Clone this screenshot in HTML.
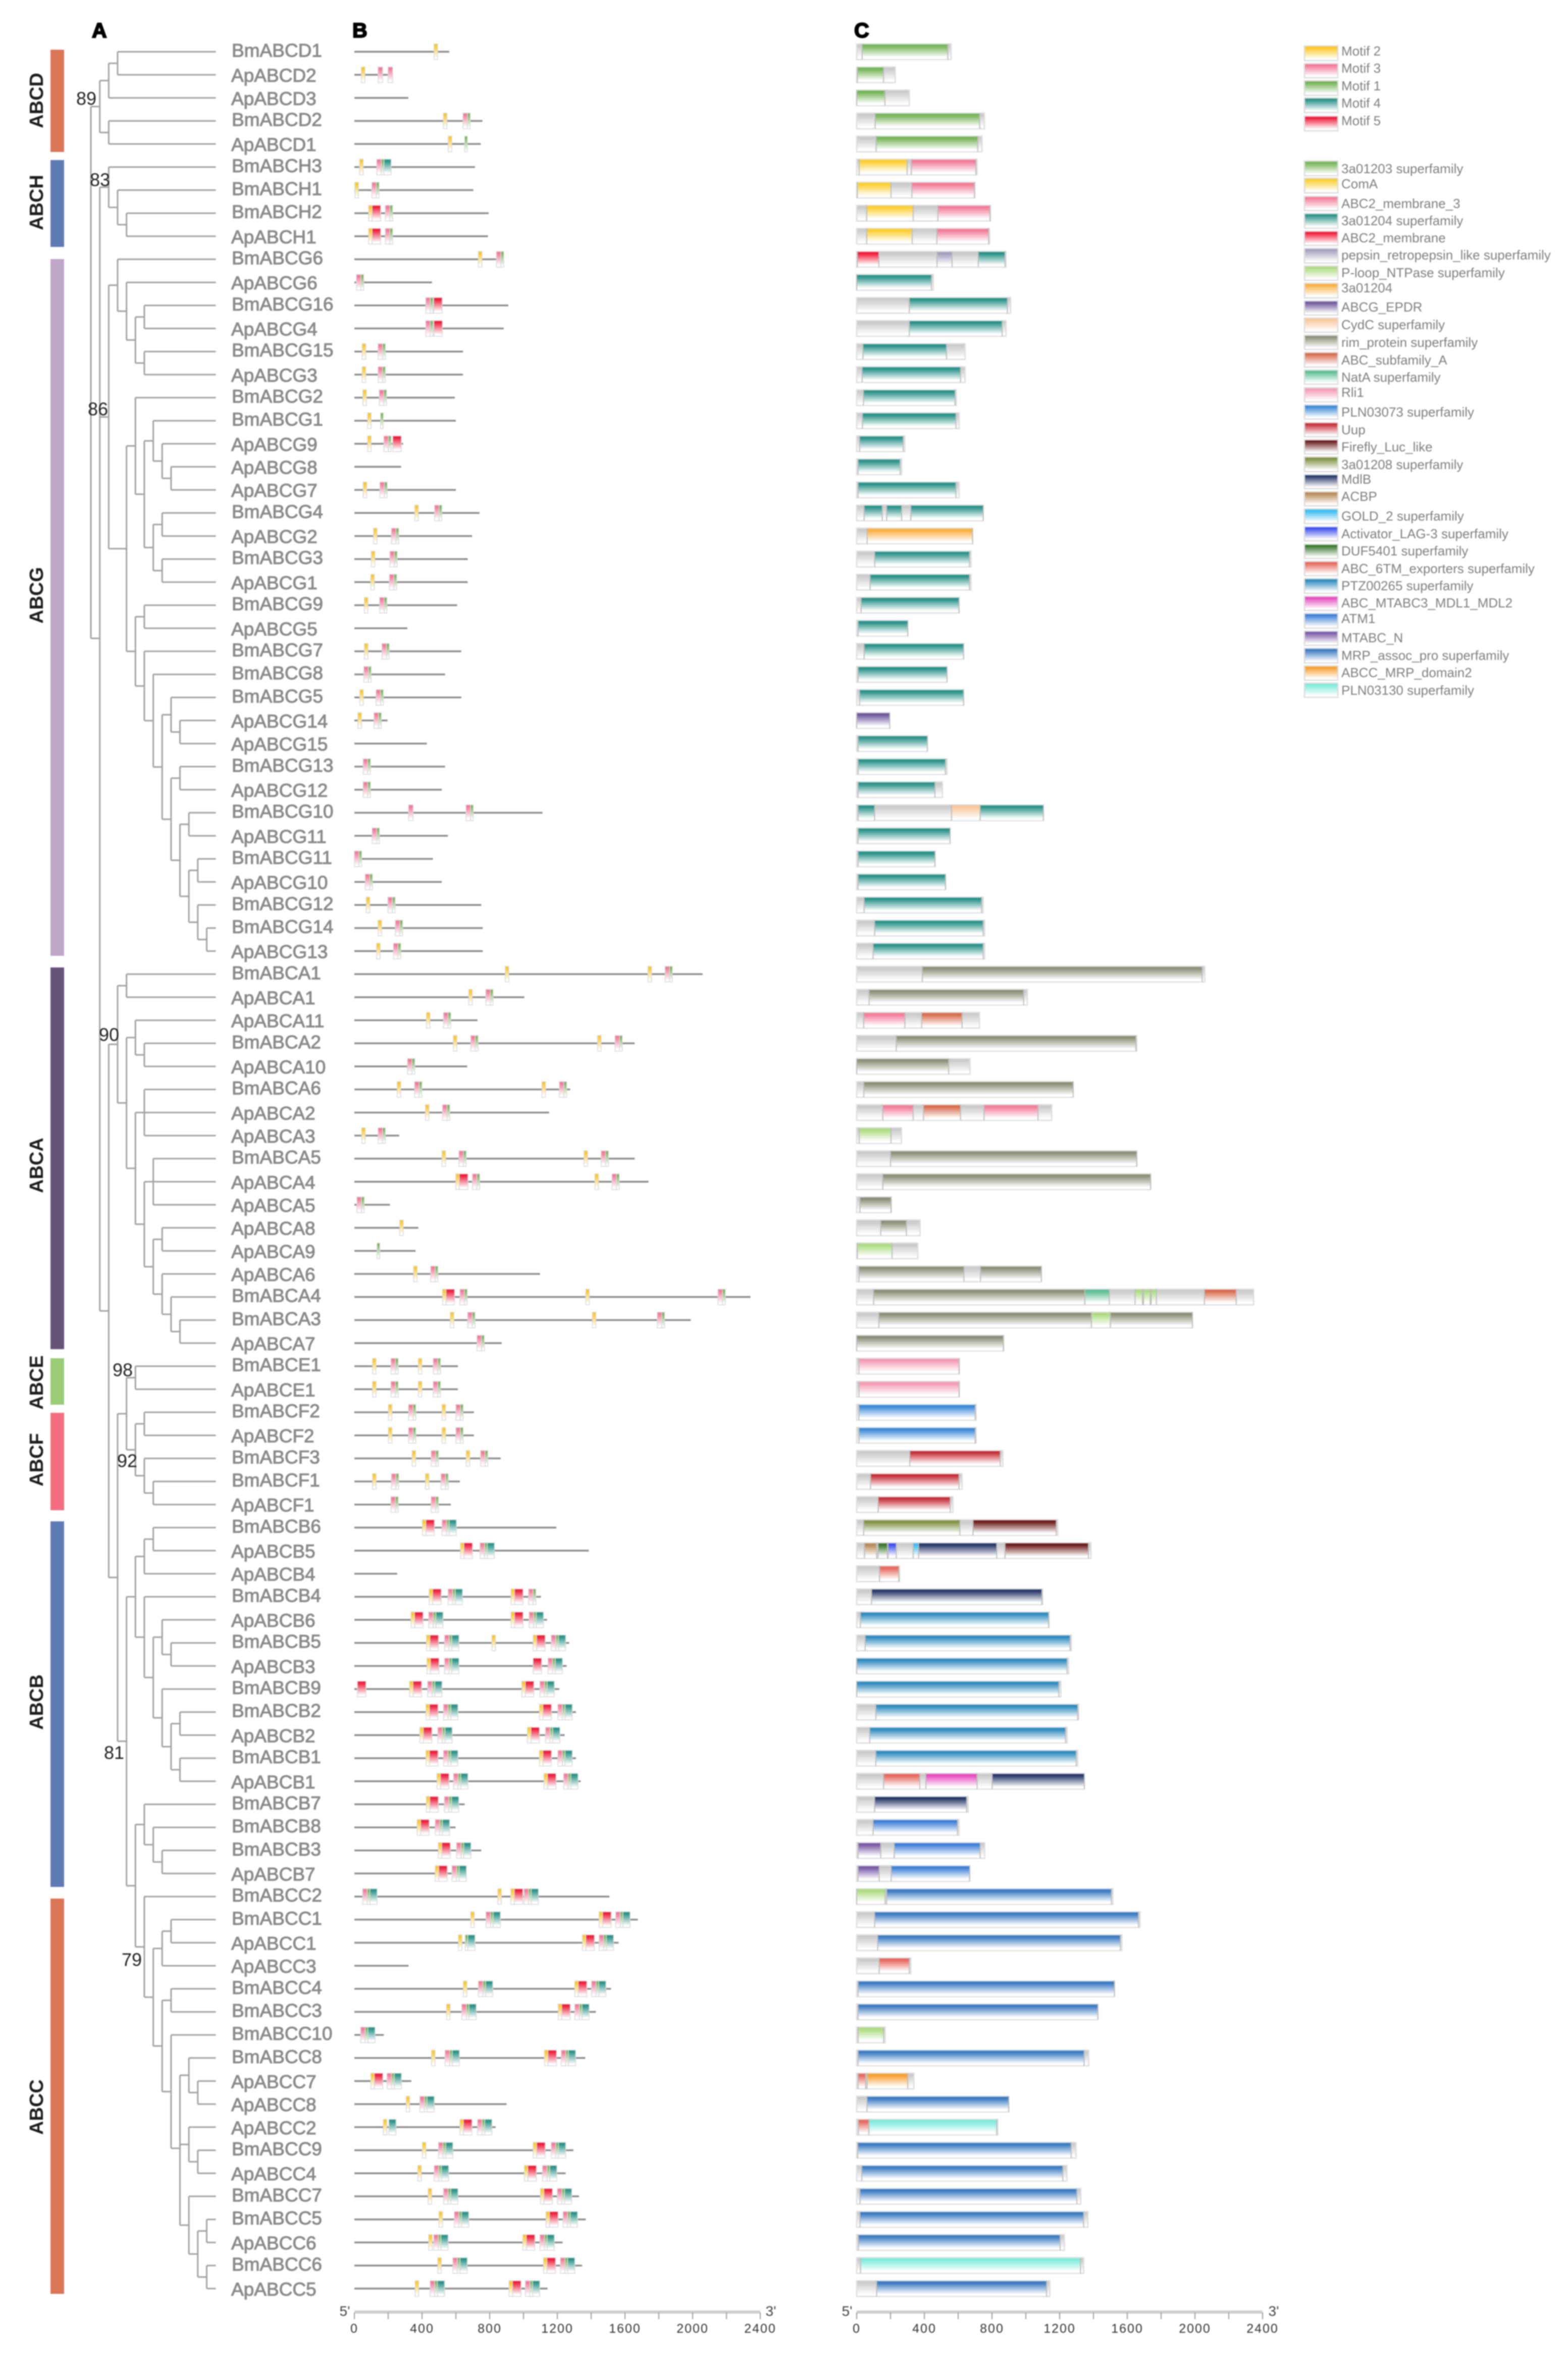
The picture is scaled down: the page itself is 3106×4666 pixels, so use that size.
<!DOCTYPE html>
<html lang="en">
<head>
<meta charset="utf-8">
<title>ABC transporter phylogeny, motifs and domains</title>
<style>
html,body{margin:0;padding:0;background:#fff;}
body{width:3106px;height:4666px;overflow:hidden;}
#figure{display:block;filter:blur(1px);font-family:"Liberation Sans",sans-serif;}
.lg{font-size:26px;fill:#808080;dominant-baseline:central;}
.sw{stroke:#dcdcdc;stroke-width:2.5;}
.grp{font-size:38px;font-weight:bold;fill:#1c1c1c;text-anchor:middle;dominant-baseline:central;}
.panel{font-size:41px;font-weight:bold;fill:#000;stroke:#000;stroke-width:2.2px;}
.boot{font-size:36px;fill:#222;text-anchor:middle;dominant-baseline:central;}
.gene{font-size:37px;fill:#8a8a8a;stroke:#8a8a8a;stroke-width:1.1px;dominant-baseline:central;}
.tick{font-size:25px;fill:#333;text-anchor:middle;letter-spacing:2px;dominant-baseline:central;}
.end{font-size:28px;fill:#444;text-anchor:middle;dominant-baseline:central;}
</style>
</head>
<body>
<svg id="figure" xmlns="http://www.w3.org/2000/svg" width="3106" height="4666" viewBox="0 0 3106 4666">
<defs id="grads"></defs>
<rect width="3106" height="4666" fill="#fff"/>

<text class="panel" x="182" y="74">A</text>
<text class="panel" x="698" y="74">B</text>
<text class="panel" x="1692" y="74">C</text>

<g>
<rect x="100" y="98.5" width="27" height="202.5" fill="#dc7555"/>
<rect x="100" y="317" width="27" height="172" fill="#5f7bb4"/>
<rect x="100" y="513" width="27" height="1380" fill="#bfa6c8"/>
<rect x="100" y="1916" width="27" height="756" fill="#67527a"/>
<rect x="100" y="2690" width="27" height="92" fill="#99cc75"/>
<rect x="100" y="2798" width="27" height="193" fill="#f56e80"/>
<rect x="100" y="3013" width="27" height="724" fill="#5f7bb4"/>
<rect x="100" y="3760" width="27" height="783" fill="#dc7555"/>
<text class="grp" transform="rotate(-90 73 199)" x="73" y="199">ABCD</text>
<text class="grp" transform="rotate(-90 73 401)" x="73" y="401">ABCH</text>
<text class="grp" transform="rotate(-90 73 1179)" x="73" y="1179">ABCG</text>
<text class="grp" transform="rotate(-90 73 2308)" x="73" y="2308">ABCA</text>
<text class="grp" transform="rotate(-90 73 2738)" x="73" y="2738">ABCE</text>
<text class="grp" transform="rotate(-90 73 2891)" x="73" y="2891">ABCF</text>
<text class="grp" transform="rotate(-90 73 3371)" x="73" y="3371">ABCB</text>
<text class="grp" transform="rotate(-90 73 4173)" x="73" y="4173">ABCC</text>
</g>

<g id="tree"></g>
<g>
<text class="boot" x="171" y="195">89</text>
<text class="boot" x="198" y="356">83</text>
<text class="boot" x="194" y="810">86</text>
<text class="boot" x="216" y="2049">90</text>
<text class="boot" x="243" y="2713">98</text>
<text class="boot" x="252" y="2893">92</text>
<text class="boot" x="226" y="3471">81</text>
<text class="boot" x="261" y="3881">79</text>
</g>
<g id="names"></g>
<g id="panelB"></g>
<g id="panelC"></g>
<g id="axisB"></g>
<g id="axisC"></g>

<g>
<rect class="sw" x="2584" y="91" width="66" height="29" fill="url(#g-Y)"/><text class="lg" x="2657" y="101">Motif 2</text>
<rect class="sw" x="2584" y="126" width="66" height="28" fill="url(#g-P)"/><text class="lg" x="2657" y="135">Motif 3</text>
<rect class="sw" x="2584" y="160" width="66" height="29" fill="url(#g-G)"/><text class="lg" x="2657" y="170">Motif 1</text>
<rect class="sw" x="2584" y="194" width="66" height="29" fill="url(#g-T)"/><text class="lg" x="2657" y="204">Motif 4</text>
<rect class="sw" x="2584" y="230" width="66" height="29" fill="url(#g-R)"/><text class="lg" x="2657" y="239">Motif 5</text>
</g>
<g>
<rect class="sw" x="2584" y="319" width="66" height="29" fill="url(#g-sf1203)"/><text class="lg" x="2657" y="334">3a01203 superfamily</text>
<rect class="sw" x="2584" y="353" width="66" height="29" fill="url(#g-ComA)"/><text class="lg" x="2657" y="364">ComA</text>
<rect class="sw" x="2584" y="389" width="66" height="28" fill="url(#g-mem3)"/><text class="lg" x="2657" y="403">ABC2_membrane_3</text>
<rect class="sw" x="2584" y="423" width="66" height="29" fill="url(#g-sf1204)"/><text class="lg" x="2657" y="437">3a01204 superfamily</text>
<rect class="sw" x="2584" y="458" width="66" height="28" fill="url(#g-mem)"/><text class="lg" x="2657" y="471">ABC2_membrane</text>
<rect class="sw" x="2584" y="492" width="66" height="29" fill="url(#g-pepsin)"/><text class="lg" x="2657" y="505">pepsin_retropepsin_like superfamily</text>
<rect class="sw" x="2584" y="527" width="66" height="28" fill="url(#g-ploop)"/><text class="lg" x="2657" y="540">P-loop_NTPase superfamily</text>
<rect class="sw" x="2584" y="561" width="66" height="29" fill="url(#g-a1204)"/><text class="lg" x="2657" y="570">3a01204</text>
<rect class="sw" x="2584" y="596" width="66" height="28" fill="url(#g-EPDR)"/><text class="lg" x="2657" y="608">ABCG_EPDR</text>
<rect class="sw" x="2584" y="630" width="66" height="28" fill="url(#g-CydC)"/><text class="lg" x="2657" y="643">CydC superfamily</text>
<rect class="sw" x="2584" y="664" width="66" height="28" fill="url(#g-rim)"/><text class="lg" x="2657" y="678">rim_protein superfamily</text>
<rect class="sw" x="2584" y="698" width="66" height="29" fill="url(#g-subA)"/><text class="lg" x="2657" y="713">ABC_subfamily_A</text>
<rect class="sw" x="2584" y="733" width="66" height="28" fill="url(#g-NatA)"/><text class="lg" x="2657" y="747">NatA superfamily</text>
<rect class="sw" x="2584" y="768" width="66" height="28" fill="url(#g-Rli1)"/><text class="lg" x="2657" y="777">Rli1</text>
<rect class="sw" x="2584" y="802" width="66" height="28" fill="url(#g-PLN73)"/><text class="lg" x="2657" y="816">PLN03073 superfamily</text>
<rect class="sw" x="2584" y="837" width="66" height="28" fill="url(#g-Uup)"/><text class="lg" x="2657" y="851">Uup</text>
<rect class="sw" x="2584" y="871" width="66" height="28" fill="url(#g-Luc)"/><text class="lg" x="2657" y="885">Firefly_Luc_like</text>
<rect class="sw" x="2584" y="905" width="66" height="29" fill="url(#g-sf1208)"/><text class="lg" x="2657" y="920">3a01208 superfamily</text>
<rect class="sw" x="2584" y="940" width="66" height="28" fill="url(#g-MdlB)"/><text class="lg" x="2657" y="949">MdlB</text>
<rect class="sw" x="2584" y="974" width="66" height="28" fill="url(#g-ACBP)"/><text class="lg" x="2657" y="983">ACBP</text>
<rect class="sw" x="2584" y="1008" width="66" height="29" fill="url(#g-GOLD)"/><text class="lg" x="2657" y="1022">GOLD_2 superfamily</text>
<rect class="sw" x="2584" y="1043" width="66" height="28" fill="url(#g-LAG3)"/><text class="lg" x="2657" y="1057">Activator_LAG-3 superfamily</text>
<rect class="sw" x="2584" y="1078" width="66" height="28" fill="url(#g-DUF)"/><text class="lg" x="2657" y="1091">DUF5401 superfamily</text>
<rect class="sw" x="2584" y="1112" width="66" height="28" fill="url(#g-TM6)"/><text class="lg" x="2657" y="1126">ABC_6TM_exporters superfamily</text>
<rect class="sw" x="2584" y="1146" width="66" height="29" fill="url(#g-PTZ)"/><text class="lg" x="2657" y="1160">PTZ00265 superfamily</text>
<rect class="sw" x="2584" y="1181" width="66" height="28" fill="url(#g-MDL)"/><text class="lg" x="2657" y="1194">ABC_MTABC3_MDL1_MDL2</text>
<rect class="sw" x="2584" y="1215" width="66" height="29" fill="url(#g-ATM1)"/><text class="lg" x="2657" y="1225">ATM1</text>
<rect class="sw" x="2584" y="1250" width="66" height="28" fill="url(#g-MTN)"/><text class="lg" x="2657" y="1263">MTABC_N</text>
<rect class="sw" x="2584" y="1284" width="66" height="29" fill="url(#g-MRP)"/><text class="lg" x="2657" y="1298">MRP_assoc_pro superfamily</text>
<rect class="sw" x="2584" y="1319" width="66" height="28" fill="url(#g-MRP2)"/><text class="lg" x="2657" y="1332">ABCC_MRP_domain2</text>
<rect class="sw" x="2584" y="1353" width="66" height="28" fill="url(#g-PLN30)"/><text class="lg" x="2657" y="1367">PLN03130 superfamily</text>
</g>
</svg>

<script>
// ---- data ----
const geneNames = ['BmABCD1','ApABCD2','ApABCD3','BmABCD2','ApABCD1','BmABCH3','BmABCH1','BmABCH2','ApABCH1',
'BmABCG6','ApABCG6','BmABCG16','ApABCG4','BmABCG15','ApABCG3','BmABCG2','BmABCG1','ApABCG9','ApABCG8','ApABCG7','BmABCG4','ApABCG2','BmABCG3','ApABCG1','BmABCG9','ApABCG5','BmABCG7','BmABCG8','BmABCG5','ApABCG14','ApABCG15','BmABCG13','ApABCG12','BmABCG10','ApABCG11','BmABCG11','ApABCG10','BmABCG12','BmABCG14','ApABCG13',
'BmABCA1','ApABCA1','ApABCA11','BmABCA2','ApABCA10','BmABCA6','ApABCA2','ApABCA3','BmABCA5','ApABCA4','ApABCA5','ApABCA8','ApABCA9','ApABCA6','BmABCA4','BmABCA3','ApABCA7',
'BmABCE1','ApABCE1','BmABCF2','ApABCF2','BmABCF3','BmABCF1','ApABCF1',
'BmABCB6','ApABCB5','ApABCB4','BmABCB4','ApABCB6','BmABCB5','ApABCB3','BmABCB9','BmABCB2','ApABCB2','BmABCB1','ApABCB1','BmABCB7','BmABCB8','BmABCB3','ApABCB7',
'BmABCC2','BmABCC1','ApABCC1','ApABCC3','BmABCC4','BmABCC3','BmABCC10','BmABCC8','ApABCC7','ApABCC8','ApABCC2','BmABCC9','ApABCC4','BmABCC7','BmABCC5','ApABCC6','BmABCC6','ApABCC5'];

// gene structure length per row (panel B), residues
const geneLengths = [561,227,319,757,747,713,703,794,790,
883,459,910,883,642,642,594,600,288,276,600,740,696,670,670,607,313,632,536,632,196,428,536,517,1112,553,464,517,750,759,759,
2059,1005,728,1657,667,1276,1151,265,1657,1739,210,378,362,1097,2342,1989,871,
612,612,707,707,865,624,570,
1194,1386,253,1103,1139,1270,1255,1212,1310,1243,1310,1338,652,598,750,661,
1508,1676,1562,320,1517,1428,174,1365,337,900,835,1295,1249,1328,1368,1231,1346,1142];

// protein length per row (panel C), residues
const proteinLengths = [558,228,311,755,741,711,699,791,785,
883,453,910,883,641,641,589,605,284,266,605,748,685,676,676,605,302,632,534,632,195,418,534,507,1104,552,463,525,748,757,757,
2058,1009,726,1656,670,1280,1153,265,1656,1738,205,375,361,1092,2347,1985,869,
607,607,706,706,864,623,569,
1189,1385,254,1099,1137,1269,1253,1207,1312,1244,1307,1346,659,605,757,668,
1515,1675,1568,320,1524,1426,168,1372,338,899,834,1297,1243,1325,1367,1228,1342,1142];

// motif hits per row: [motif string, start residue]. Y=Motif 2, P=Motif 3, G=Motif 1, T=Motif 4, R=Motif 5
const motifHits = [
[['Y',471]],[['Y',41],['P',140],['P',199]],[],[['Y',526],['PG',642]],[['Y',555],['G',652]],
[['Y',31],['PGT',132]],[['Y',3],['PG',103]],[['YR',84],['PG',183]],[['YR',84],['PG',183]],
[['Y',733],['PG',840]],[['PG',12]],[['PG',422],['R',469]],[['PG',422],['R',470]],[['Y',46],['PG',140]],[['Y',46],['PG',140]],[['Y',50],['PG',147]],
[['Y',78],['G',155]],[['Y',78],['PG',174],['R',227]],[],[['Y',52],['PG',151]],[['Y',357],['PG',474]],[['Y',113],['PG',219]],[['Y',100],['PG',210]],[['Y',97],['PG',207]],
[['Y',59],['PG',149]],[],[['Y',59],['PG',163]],[['PG',56]],[['Y',32],['PG',128]],[['Y',21],['PG',116]],[],[['PG',52]],[['PG',52]],[['P',320],['PG',660]],[['PG',105]],[['PG',0]],[['PG',64]],[['Y',70],['PG',198]],[['Y',140],['PG',242]],[['Y',131],['PG',231]],
[['Y',892],['Y',1736],['PG',1837]],[['Y',676],['PG',777]],[['Y',426],['PG',527]],[['Y',585],['PG',688],['Y',1438],['PG',1541]],[['PG',314]],
[['Y',253],['PG',356],['Y',1109],['PG',1212]],[['Y',420],['PG',521]],[['Y',43],['PG',140]],[['Y',518],['PG',618],['Y',1358],['PG',1459]],[['YR',600],['PG',698],['Y',1422],['PG',1523]],
[['PG',15]],[['Y',268]],[['G',134]],[['Y',350],['PG',451]],[['YR',521],['PG',624],['Y',1368],['PG',2150]],[['Y',567],['PG',670],['Y',1407],['PG',1791]],[['PG',725]],
[['Y',107],['PG',216],['Y',378],['PG',466]],[['Y',107],['PG',216],['Y',378],['PG',466]],[['Y',201],['PG',320],['Y',518],['PG',600]],[['Y',201],['PG',320],['Y',518],['PG',600]],[['Y',341],['PG',454],['Y',661],['PG',746]],[['Y',107],['PG',219],['Y',420],['PG',512]],[['PG',216],['PG',454]],
[['YR',402],['PGT',518]],[['YR',627],['PGT',743]],[],[['YR',442],['PGT',554],['YR',926],['PG',1030]],[['YR',335],['PGT',439],['YR',926],['PGT',1033]],[['YR',426],['PGT',533],['Y',813],['YR',1057],['PGT',1164]],[['YR',429],['PGT',533],['R',1057],['PGT',1145]],
[['R',18],['YR',326],['PGT',433],['YR',990],['PGT',1097]],[['YR',423],['PGT',527],['YR',1094],['PGT',1203]],[['YR',387],['PGT',493],['YR',1023],['PGT',1130]],[['YR',423],['PGT',527],['YR',1094],['PGT',1203]],[['YR',488],['PGT',586],['YR',1121],['PGT',1237]],
[['YR',425],['PGT',532]],[['YR',371],['PGT',478]],[['YR',496],['PGT',604]],[['YR',478],['PGT',577]],
[['PGT',49],['Y',848],['YR',925],['PGT',1003]],[['Y',688],['PGT',778],['YR',1447],['PGT',1545]],[['Y',615],['GT',655],['YR',1348],['PGT',1447]],[],[['Y',644],['PGT',733],['YR',1303],['PGT',1402]],[['Y',545],['PGT',635],['YR',1205],['PGT',1303]],[['PGT',37]],
[['Y',456],['PGT',536],['YR',1124],['PGT',1223]],[['YR',97],['PGT',193]],[['Y',306],['PGT',387]],[['Y',171],['T',204],['YR',624],['PGT',728]],[['Y',402],['PGT',497],['YR',1057],['PGT',1164]],[['Y',375],['PGT',472],['YR',1005],['PGT',1112]],
[['Y',436],['PGT',527],['YR',1100],['PGT',1200]],[['Y',500],['PGT',591],['YR',1133],['PGT',1234]],[['Y',439],['PGT',469],['YR',996],['PGT',1097]],[['Y',493],['PGT',582],['YR',1118],['PGT',1218]],[['Y',359],['PGT',448],['YR',914],['PGT',1011]]
];

// motif widths in residues
const motifWidths = {Y:21,P:27,G:16,T:42,R:50};

// domain hits per row: [start residue, end residue, domain key]
const domainHits = [
[[32,539,'sf1203']],[[4,159,'sf1203']],[[0,167,'sf1203']],[[109,727,'sf1203']],[[115,716,'sf1203']],
[[15,298,'ComA'],[323,705,'mem3']],[[4,203,'ComA'],[326,696,'mem3']],[[59,334,'ComA'],[480,788,'mem3']],[[59,328,'ComA'],[474,780,'mem3']],
[[4,131,'mem'],[475,564,'pepsin'],[719,877,'sf1204']],[[0,442,'sf1204']],[[311,891,'sf1204']],[[311,860,'sf1204']],[[37,531,'sf1204']],[[32,614,'sf1204']],[[40,582,'sf1204']],
[[34,587,'sf1204']],[[17,275,'sf1204']],[[8,257,'sf1204']],[[8,587,'sf1204']],[[44,151,'sf1204'],[177,266,'sf1204'],[320,748,'sf1204']],[[62,685,'a1204']],[[106,667,'sf1204']],[[79,667,'sf1204']],
[[26,605,'sf1204']],[[8,302,'sf1204']],[[44,632,'sf1204']],[[8,534,'sf1204']],[[17,632,'sf1204']],[[0,195,'EPDR']],[[8,418,'sf1204']],[[8,525,'sf1204']],[[8,463,'sf1204']],
[[8,106,'sf1204'],[561,730,'CydC'],[730,1104,'sf1204']],[[8,552,'sf1204']],[[8,463,'sf1204']],[[8,525,'sf1204']],[[44,739,'sf1204']],[[106,748,'sf1204']],[[97,748,'sf1204']],
[[388,2043,'rim']],[[73,987,'rim']],[[41,285,'mem3'],[384,623,'subA']],[[234,1651,'rim']],[[0,544,'rim']],[[42,1280,'rim']],
[[154,334,'mem3'],[395,614,'subA'],[753,1072,'mem3']],[[15,203,'ploop']],[[200,1656,'rim']],[[154,1738,'rim']],[[19,203,'rim']],[[142,294,'rim']],[[4,209,'ploop']],
[[13,634,'rim'],[732,1092,'rim']],[[100,1349,'rim'],[1349,1494,'NatA'],[1646,1690,'ploop'],[1696,1736,'ploop'],[1741,1772,'ploop'],[2056,2244,'subA']],[[131,1388,'rim'],[1388,1500,'ploop'],[1500,1985,'rim']],[[0,867,'rim']],
[[13,605,'Rli1']],[[13,605,'Rli1']],[[13,701,'PLN73']],[[13,701,'PLN73']],[[314,849,'Uup']],[[82,605,'Uup']],[[127,553,'Uup']],
[[41,610,'sf1208'],[688,1180,'Luc']],[[46,118,'ACBP'],[126,182,'DUF'],[185,234,'LAG3'],[334,366,'GOLD'],[366,828,'MdlB'],[877,1370,'Luc']],[[135,249,'TM6']],[[88,1095,'MdlB']],
[[22,1135,'PTZ']],[[50,1262,'PTZ']],[[0,1244,'PTZ']],[[0,1195,'PTZ']],[[113,1307,'PTZ']],[[77,1235,'PTZ']],[[113,1298,'PTZ']],[[159,373,'TM6'],[409,712,'MDL'],[801,1346,'MdlB']],
[[106,650,'MdlB']],[[97,596,'ATM1']],[[8,142,'MTN'],[222,730,'ATM1']],[[8,133,'MTN'],[204,668,'ATM1']],
[[0,168,'ploop'],[177,1506,'MRP']],[[106,1666,'MRP']],[[124,1559,'MRP']],[[133,311,'TM6']],[[8,1524,'MRP']],[[8,1426,'MRP']],[[8,159,'ploop']],
[[8,1345,'MRP']],[[8,53,'TM6'],[61,302,'MRP2']],[[61,899,'MRP']],[[10,72,'TM6'],[72,828,'PLN30']],[[6,1268,'MRP']],[[30,1219,'MRP']],
[[19,1302,'MRP']],[[19,1342,'MRP']],[[10,1203,'MRP']],[[23,1323,'PLN30']],[[118,1123,'MRP']]
];

const axisTickLabels = [0,400,800,1200,1600,2000,2400];
const axisMinorTicks = [0,200,400,600,800,1000,1200,1400,1600,1800,2000,2200,2400];

// tree topology: [node depth, ...children]; leaves are gene names
const abcdClade = [1,[2,[3,'BmABCD1','ApABCD2'],'ApABCD3'],[2,'BmABCD2','ApABCD1']];
const abchClade = [2,'BmABCH3',[3,'BmABCH1',[4,'BmABCH2','ApABCH1']]];
const abcgClade = [2,
 [3,'BmABCG6',[4,'ApABCG6',[5,[6,'BmABCG16','ApABCG4'],[6,'BmABCG15','ApABCG3']]]],
 [4,
  [5,'BmABCG2',[6,[7,'BmABCG1',[8,'ApABCG9',[9,'ApABCG8','ApABCG7']]],[7,[8,'BmABCG4','ApABCG2'],[8,'BmABCG3','ApABCG1']]]],
  [5,[6,'BmABCG9','ApABCG5'],[6,'BmABCG7',[7,'BmABCG8',[8,[9,'BmABCG5',[10,'ApABCG14','ApABCG15']],[9,[10,'BmABCG13','ApABCG12'],[10,[11,'BmABCG10','ApABCG11'],[11,[12,'BmABCG11','ApABCG10'],[12,'BmABCG12',[13,'BmABCG14','ApABCG13']]]]]]]]]
 ]];
const abcaClade = [3,[4,'BmABCA1','ApABCA1'],[4,[5,'ApABCA11',[6,'BmABCA2','ApABCA10']],[5,[6,'BmABCA6','ApABCA2','ApABCA3'],[6,[7,'BmABCA5','ApABCA4','ApABCA5'],[7,[8,'ApABCA8','ApABCA9'],[8,'ApABCA6',[9,'BmABCA4',[10,'BmABCA3','ApABCA7']]]]]]]];
const abcefClade = [4,[5,'BmABCE1','ApABCE1'],[5,[6,'BmABCF2','ApABCF2'],[6,'BmABCF3',[7,'BmABCF1','ApABCF1']]]];
const abcbUpperClade = [5,[6,[7,'BmABCB6','ApABCB5'],'ApABCB4'],[6,'BmABCB4',[7,[8,'ApABCB6',[9,'BmABCB5','ApABCB3']],[8,'BmABCB9',[9,[10,'BmABCB2','ApABCB2'],[10,'BmABCB1','ApABCB1']]]]]];
const abcbcClade = [5,[6,'BmABCB7',[7,'BmABCB8',[8,'BmABCB3','ApABCB7']]],[6,'BmABCC2',[7,[8,[9,'BmABCC1','ApABCC1'],'ApABCC3'],[8,[9,'BmABCC4','BmABCC3'],[9,'BmABCC10',[10,[11,'BmABCC8',[12,'ApABCC7','ApABCC8']],[11,'ApABCC2',[12,'BmABCC9','ApABCC4']],[11,'BmABCC7',[12,[13,'BmABCC5','ApABCC6'],[13,'BmABCC6','ApABCC5']]]]]]]]];
const treeRoot = [0,abcdClade,[1,abchClade,abcgClade,[2,abcaClade,[3,abcefClade,[4,abcbUpperClade,abcbcClade]]]]];

// ---- palette ----
const palette = {Y:'#fdc722',P:'#f4789a',G:'#72b454',T:'#2a9487',R:'#ef1e3c',
sf1203:'#76b658',ComA:'#fccf30',mem3:'#f27c9b',sf1204:'#2b948a',mem:'#f41c3a',pepsin:'#a3a0bd',ploop:'#aedc82',a1204:'#fbb040',EPDR:'#6d5a9e',CydC:'#f9c79c',rim:'#8c9178',subA:'#d96d4e',NatA:'#5cbf94',Rli1:'#f59cb4',PLN73:'#3c8ad9',Uup:'#c9303a',Luc:'#6f2020',sf1208:'#7f9444',MdlB:'#2b3a6b',ACBP:'#b98a58',GOLD:'#39bdf2',LAG3:'#3f50f0',DUF:'#3a7a2e',TM6:'#e8685e',PTZ:'#2f8cc0',MDL:'#e84cc0',ATM1:'#3f80d8',MTN:'#7a5ca8',MRP:'#3d7cc4',MRP2:'#f8a030',PLN30:'#7eecdc',body:'#cacaca'};

// ---- axes ----
const NS = 'http://www.w3.org/2000/svg';
const pxPerResidue = 0.335;
const xB = aa => 702 + aa * pxPerResidue;
const xC = aa => 1697 + aa * pxPerResidue;
const yRow = i => 102.5 + i * 45.67;
const xDepth = d => 180 + d * 17.65;
const treeTipX = 427.5;
const barH = 31;

function make(tag, attrs, parent) {
  const el = document.createElementNS(NS, tag);
  for (const k in attrs) el.setAttribute(k, attrs[k]);
  parent.appendChild(el);
  return el;
}

// gradients
const defs = document.getElementById('grads');
for (const key in palette) {
  const g = make('linearGradient', {id:'g-' + key, x1:0, y1:0, x2:0, y2:1}, defs);
  
  
  make('stop', {offset:'0', 'stop-color':palette[key]}, g);
  make('stop', {offset:'.12', 'stop-color':palette[key]}, g);
  make('stop', {offset:'.88', 'stop-color':'#ffffff'}, g);
  make('stop', {offset:'1', 'stop-color':'#ffffff'}, g);
}

// gene names
const namesLayer = document.getElementById('names');
geneNames.forEach((name, i) => {
  const isAp = name.startsWith('Ap');
  const t = make('text', {class:'gene', x:isAp ? 458 : 459, y:yRow(i) + (isAp ? 1.5 : -2.5)}, namesLayer);
  
  
  t.textContent = name;
});

// tree
const treeLayer = document.getElementById('tree');
let treePath = '';
function layout(node) {
  if (typeof node === 'string') return {x:treeTipX, y:yRow(geneNames.indexOf(node))};
  const x = xDepth(node[0]);
  const kids = node.slice(1).map(layout);
  const ys = kids.map(k => k.y);
  const y = ys.reduce((a, b) => a + b, 0) / ys.length;
  treePath += 'M' + x + ' ' + Math.min(...ys) + 'V' + Math.max(...ys);
  kids.forEach(k => { treePath += 'M' + x + ' ' + k.y + 'H' + k.x; });
  return {x:x, y:y};
}
layout(treeRoot);
const treeLines = make('path', {d:treePath, fill:'none', stroke:'#a2a2a2', 'stroke-width':3}, treeLayer);



// panel B: gene lines + motifs
const panelB = document.getElementById('panelB');
geneNames.forEach((name, i) => {
  const y = yRow(i);
  const line = make('line', {x1:xB(0), x2:xB(geneLengths[i]), y1:y, y2:y, stroke:'#8c8c8c', 'stroke-width':3.5}, panelB);
  
  
  motifHits[i].forEach(hit => {
    let start = hit[1];
    for (const code of hit[0]) {
      const w = motifWidths[code];
      const r = make('rect', {x:xB(start), y:y - barH / 2, width:w * pxPerResidue, height:barH, fill:'url(#g-' + code + ')', stroke:'#d9d9d9', 'stroke-width':1.5}, panelB);
      
      
      start += w;
    }
  });
});

// panel C: protein bars + domains
const panelC = document.getElementById('panelC');
geneNames.forEach((name, i) => {
  const y = yRow(i);
  const top = y - barH / 2;
  const body = make('rect', {x:xC(0), y:top, width:proteinLengths[i] * pxPerResidue, height:barH, fill:'url(#g-body)', stroke:'#dedede', 'stroke-width':2.5}, panelC);
  
  
  domainHits[i].forEach(dom => {
    const r = make('rect', {x:xC(dom[0]), y:top + 1, width:(dom[1] - dom[0]) * pxPerResidue, height:barH - 2, fill:'url(#g-' + dom[2] + ')'}, panelC);
    
    
    const edges = make('path', {d:'M' + xC(dom[0]) + ' ' + top + 'v' + barH + 'M' + xC(dom[1]) + ' ' + top + 'v' + barH, fill:'none', stroke:'#bdbdbd', 'stroke-width':2}, panelC);
    
    
  });
});

// axes
function drawAxis(layer, xf, leftX, rightX) {
  const base = make('line', {x1:xf(0), x2:xf(2400), y1:4579, y2:4579, stroke:'#cdcdcd', 'stroke-width':6}, layer);
  
  
  axisMinorTicks.forEach(v => {
    const t = make('line', {x1:xf(v), x2:xf(v), y1:4580, y2:4593, stroke:'#9a9a9a', 'stroke-width':2}, layer);
    
    
  });
  axisTickLabels.forEach(v => {
    const l = make('text', {class:'tick', x:xf(v), y:4612}, layer);
    
    
    l.textContent = v;
  });
  const five = make('text', {class:'end', x:leftX, y:4577}, layer);
  
  
  five.textContent = "5'";
  const three = make('text', {class:'end', x:rightX, y:4577}, layer);
  
  
  three.textContent = "3'";
}
drawAxis(document.getElementById('axisB'), xB, 683, 1527);
drawAxis(document.getElementById('axisC'), xC, 1678, 2523);
</script>
</body>
</html>
